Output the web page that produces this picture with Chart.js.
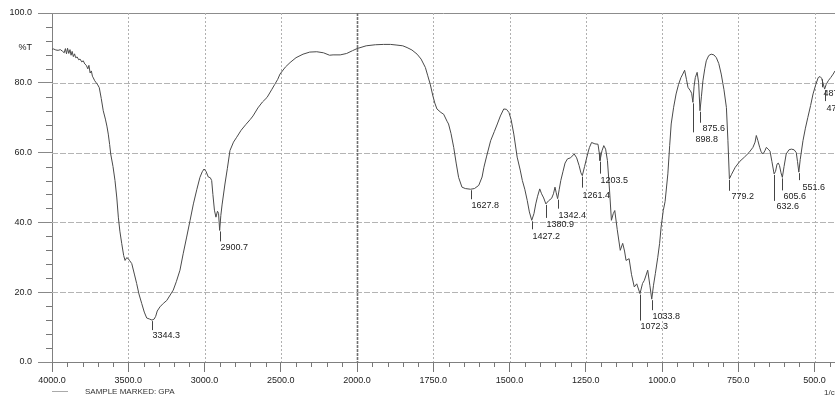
<!DOCTYPE html>
<html><head><meta charset="utf-8">
<script src="https://cdn.jsdelivr.net/npm/chart.js@4.4.0/dist/chart.umd.min.js"></script>
<style>html,body{margin:0;padding:0;background:#fff;overflow:hidden}#wrap{width:835px;height:396px;position:relative}</style>
</head><body><div id="wrap"><canvas id="c" width="835" height="396"></canvas></div>
<script>
// ---- data ----
const wavenumbers = [4000,3990,3975,3960,3945,3930,3920,3912,3905,3898,3890,3882,3875,3868,3860,3852,3845,3835,3825,3816,3805,3795,3785,3775,3765,3758,3750,3742,3735,3729,3720,3710,3700,3690,3677,3664,3650,3640,3631,3622,3615,3600,3587,3575,3565,3555,3543,3530,3521,3510,3500,3490,3477,3460,3445,3430,3412,3395,3379,3360,3344.3,3330,3320,3310,3292,3270,3248,3225,3205,3185,3161,3140,3117,3095,3073,3050,3030,3015,3003,2990,2975,2962,2953,2945,2935,2925,2915,2908,2900.7,2893,2885,2866,2850,2833,2810,2789,2760,2730,2700,2682,2650,2620,2590,2560,2540,2520,2505,2470,2439,2400,2354,2310,2264,2220,2180,2157,2110,2068,2030,2000,1970,1940,1913,1890,1869,1850,1836,1820,1803,1790,1776,1768,1760,1752,1745,1738,1725,1716,1705,1700,1692,1683,1675,1667,1656,1645,1627.8,1615,1601,1590,1584,1575,1562,1550,1540,1530,1519,1510,1502,1495,1486,1475,1465,1458,1450,1442,1435,1427.2,1420,1414,1408,1401,1395,1388,1380.9,1372,1362,1356,1351,1347,1342.4,1337,1332,1325,1318,1310,1300,1288,1280,1272,1266,1261.4,1254,1244,1238,1231,1220,1210,1206,1203.5,1197,1191,1185,1179,1172,1166,1160,1155,1147,1137,1129,1123,1118,1108,1100,1091,1083,1072.3,1064,1058,1047,1040,1033.8,1028,1022,1014,1008,1003,996,990,981,975,970,962,954,946,938,932,926,920,915,907,903,898.8,895,891,885,880,875.6,871,866,860,855,847,839,830,822,814,806,797,789,784,779.2,772,760,745,730,715,702,695,691,686,680,675,669,663,658,652,646,640,632.6,628,623,619,615,610,605.6,600,593,584,576,567,560,556,551.6,547,538,530,522,513,505,496,488,482,477,472,467,462,455,447,439,433];
const transmittance = [89.6,89.7,89.4,89.3,89.5,89.0,88.6,89.8,88.3,89.9,88.4,89.5,87.9,89.0,87.5,88.3,87.2,87.4,86.6,86.8,86.0,86.3,85.4,85.0,84.0,85.0,82.8,83.4,81.9,81.4,80.6,80.0,79.4,78.6,75.5,72.0,69.6,67.6,65.3,62.3,59.6,56.0,52.0,47.0,41.5,37.5,34.0,30.5,29.1,29.9,29.6,29.0,28.2,25.2,22.5,19.5,16.8,14.3,12.6,12.3,12.0,12.3,13.1,14.6,15.8,16.8,17.6,19.2,20.6,23.0,26.3,31.0,35.8,40.5,45.3,49.5,52.9,54.5,55.3,54.6,53.0,52.8,52.0,48.0,43.5,41.5,43.2,42.6,37.7,42.0,45.0,51.0,55.5,60.6,63.0,64.4,66.4,68.0,69.5,70.5,72.8,74.5,75.8,78.0,79.5,81.0,82.5,84.5,85.8,87.2,88.2,88.8,88.9,88.6,87.9,88.0,88.0,88.4,89.2,89.8,90.6,90.9,91.0,91.0,90.8,90.6,90.1,89.4,88.2,86.8,84.4,82.0,79.6,76.5,74.2,72.5,71.5,71.0,69.0,68.2,65.5,61.5,57.0,52.9,50.1,49.7,49.5,49.7,50.6,53.0,55.8,59.0,63.4,66.0,68.2,70.5,72.5,72.4,71.5,69.5,65.3,58.7,55.0,52.0,49.5,46.3,43.0,40.6,42.5,45.3,47.5,49.6,48.2,47.0,45.3,46.2,46.9,48.2,50.1,48.5,46.8,49.5,52.0,54.5,57.0,58.2,58.5,59.6,58.5,56.3,54.2,53.4,56.0,59.6,61.5,62.9,62.5,62.4,60.0,57.7,60.5,62.0,61.0,57.7,49.0,40.6,42.5,43.4,38.0,32.0,34.0,31.8,29.1,29.6,25.0,21.5,22.4,19.6,22.5,23.4,26.3,22.0,18.0,22.0,25.3,30.0,34.0,38.7,43.4,46.0,53.9,62.0,68.2,73.0,76.8,79.5,81.5,82.5,83.6,81.0,78.7,77.7,77.0,74.4,79.0,81.5,83.0,80.0,72.0,76.0,80.6,84.0,86.3,87.8,88.2,88.0,87.2,85.5,82.5,78.0,72.9,63.4,52.5,53.8,55.8,57.5,58.7,60.0,61.5,63.0,64.9,63.5,61.5,60.2,59.6,60.5,61.5,61.0,60.4,57.5,53.9,54.6,56.7,57.0,56.3,54.2,52.9,56.0,59.6,60.8,61.0,60.8,60.0,57.5,54.4,58.0,63.4,67.0,70.1,73.5,76.8,79.5,81.5,81.8,81.3,79.8,78.2,79.5,80.6,81.5,82.5,83.4];
const xTickValues = [4000,3500,3000,2500,2000,1750,1500,1250,1000,750,500];
const yTickValues = [0,20,40,60,80,90,100];
const peakLabels = ['3344.3','2900.7','1627.8','1427.2','1380.9','1342.4','1261.4','1203.5','1072.3','1033.8','898.8','875.6','779.2','632.6','605.6','551.6','487.6','470.5'];
const peakWavenumbers = [3344.3,2900.7,1627.8,1427.2,1380.9,1342.4,1261.4,1203.5,1072.3,1033.8,898.8,875.6,779.2,632.6,605.6,551.6,477,467];
const peakTransmittance = [12.0,37.7,49.5,40.6,45.3,46.8,53.4,57.7,19.6,18.0,74.4,72.0,52.5,53.9,52.9,54.4,81.3,78.2];

// ---- layout for the peak annotations (pixels) ----
const peakLayout = {
  tickLen: [10,11,10,9,14,10,12,13,27,11,30,12,12,27,13,8,9,12],
  textDy:  [15,17,16,16,21,17,20,20,33,17,37,18,18,33,19,15,15,19],
  textDx:  [0,0,0,0,0,0,0,0,0,0,2,2,2,2,1,3,1,1]
};

Chart.defaults.font.family = '"Liberation Sans", Arial, sans-serif';

class IRScale extends Chart.LinearScale {
  static id = 'irscale';
  static defaults = Chart.LinearScale.defaults;
  buildTicks() { return xTickValues.map(v => ({value: v})); }
  _u(v) { return v >= 2000 ? (4000 - v) / 2 : 1000 + (2000 - v); }
  getPixelForValue(v) {
    const total = this._u(this.min);
    return this.left + this.width * this._u(v) / total;
  }
  getValueForPixel(p) {
    const total = this._u(this.min);
    const u = (p - this.left) / this.width * total;
    return u <= 1000 ? 4000 - 2 * u : 2000 - (u - 1000);
  }
}
Chart.register(IRScale);

const irDecor = {
  id: 'irDecor',
  beforeDatasetsDraw(chart) {
    const {ctx, chartArea: a, scales: {x, y}} = chart;
    ctx.save();
    ctx.lineWidth = 1;
    y.ticks.forEach(t => {
      if (t.value === 0 || t.value === 90) return;
      const py = Math.round(y.getPixelForValue(t.value)) + 0.5;
      ctx.strokeStyle = t.value === 100 ? '#8c8c8c' : '#b4b4b4';
      ctx.setLineDash(t.value === 100 ? [] : [6, 2]);
      ctx.beginPath(); ctx.moveTo(a.left, py); ctx.lineTo(a.right, py); ctx.stroke();
    });
    x.ticks.forEach(t => {
      if (t.value === 4000) return;
      const px = Math.round(x.getPixelForValue(t.value)) + 0.5;
      if (t.value === 2000) { ctx.strokeStyle = '#707070'; ctx.lineWidth = 1.6; ctx.setLineDash([3, 1]); }
      else { ctx.strokeStyle = '#b0b0b0'; ctx.lineWidth = 1; ctx.setLineDash([2, 2]); }
      ctx.beginPath(); ctx.moveTo(px, a.top); ctx.lineTo(px, a.bottom); ctx.stroke();
    });
    ctx.restore();
  },
  afterDraw(chart) {
    const {ctx, chartArea: a, scales: {x, y}} = chart;
    ctx.save();
    ctx.strokeStyle = '#777';
    ctx.lineWidth = 1;
    ctx.setLineDash([]);
    // minor x ticks
    ctx.beginPath();
    for (let w = 3900; w > 2000; w -= 100) {
      if (xTickValues.includes(w)) continue;
      const px = Math.round(x.getPixelForValue(w)) + 0.5;
      ctx.moveTo(px, a.bottom); ctx.lineTo(px, a.bottom + 5);
    }
    for (let w = 1950; w >= 450; w -= 50) {
      if (xTickValues.includes(w)) continue;
      const px = Math.round(x.getPixelForValue(w)) + 0.5;
      ctx.moveTo(px, a.bottom); ctx.lineTo(px, a.bottom + 5);
    }
    // minor y ticks
    for (let v = 4; v < 100; v += 4) {
      if (v % 20 === 0) continue;
      const py = Math.round(y.getPixelForValue(v)) + 0.5;
      ctx.moveTo(a.left - 6, py); ctx.lineTo(a.left, py);
    }
    ctx.stroke();

    // peak annotations
    ctx.fillStyle = '#222';
    ctx.strokeStyle = '#444';
    ctx.font = '9px "Liberation Sans", Arial, sans-serif';
    ctx.textAlign = 'left';
    ctx.textBaseline = 'middle';
    peakLabels.forEach((lab, i) => {
      const px = Math.round(x.getPixelForValue(peakWavenumbers[i])) + 0.5;
      const py = y.getPixelForValue(peakTransmittance[i]);
      ctx.beginPath();
      ctx.moveTo(px, py + 1); ctx.lineTo(px, py + peakLayout.tickLen[i]);
      ctx.stroke();
      ctx.fillText(lab, px + peakLayout.textDx[i], py + peakLayout.textDy[i]);
    });

    // footer
    ctx.fillStyle = '#333';
    ctx.font = '8px "Liberation Sans", Arial, sans-serif';
    ctx.fillText('SAMPLE MARKED: GPA', 85, 392);
    ctx.fillText('1/cm', 824, 393);
    ctx.strokeStyle = '#aaa';
    ctx.beginPath(); ctx.moveTo(52, 391.5); ctx.lineTo(68, 391.5); ctx.stroke();
    ctx.restore();
  }
};

new Chart(document.getElementById('c'), {
  type: 'line',
  data: {
    datasets: [{
      data: wavenumbers.map((w, i) => ({x: w, y: transmittance[i]})),
      borderColor: '#4a4a4a',
      borderWidth: 1,
      pointRadius: 0,
      tension: 0,
      fill: false
    }]
  },
  options: {
    responsive: false,
    animation: false,
    devicePixelRatio: 1,
    layout: {padding: {top: 13, right: 0, left: 0, bottom: 0}},
    plugins: {legend: {display: false}, tooltip: {enabled: false}},
    scales: {
      x: {
        type: 'irscale',
        min: 433, max: 4000,
        afterFit: s => { s.height = 34; },
        grid: {drawOnChartArea: false, drawTicks: true, tickLength: 10, tickColor: '#777'},
        border: {display: true, color: '#808080', width: 1},
        ticks: {autoSkip: false, maxRotation: 0, padding: 3, color: '#222',
                font: {size: 9}, callback: v => Number(v).toFixed(1)}
      },
      y: {
        type: 'linear',
        min: 0, max: 100,
        afterBuildTicks: s => { s.ticks = yTickValues.map(v => ({value: v})); },
        afterFit: s => { s.width = 52; },
        grid: {drawOnChartArea: false, drawTicks: true, tickLength: 14,
               tickColor: c => (c.tick && c.tick.value === 90) ? 'rgba(0,0,0,0)' : '#888'},
        border: {display: true, color: '#808080', width: 1},
        ticks: {autoSkip: false, padding: 6, color: '#222', font: {size: 9},
                callback: v => v === 90 ? '%T' : Number(v).toFixed(1)}
      }
    }
  },
  plugins: [irDecor]
});
</script>
</body></html>
